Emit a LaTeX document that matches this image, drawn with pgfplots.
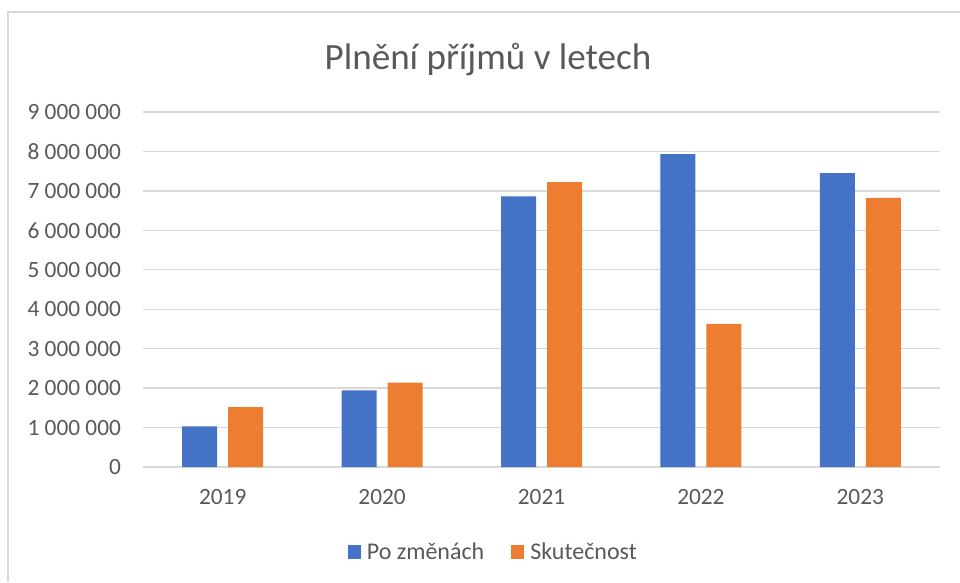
\documentclass[border=0pt]{standalone}
\usepackage{pgfplots}
\pgfplotsset{compat=1.18}
\usepackage{fontspec}
\setmainfont{Carlito}
\definecolor{cblue}{RGB}{68,114,196}
\definecolor{corange}{RGB}{237,125,49}
\definecolor{ctext}{RGB}{89,89,89}
\definecolor{cgrid}{RGB}{217,217,217}
\begin{document}
\begin{tikzpicture}
\path[use as bounding box] (0,0) rectangle (720pt,436.5pt);
\draw[cgrid, line width=1.2pt] (6pt,0) -- (6pt,427.5pt) -- (720pt,427.5pt);
\node[text=ctext, font=\fontsize{27.8}{32}\selectfont] at (366pt,391.5pt) {Plnění příjmů v letech};
\begin{axis}[
  at={(107.25pt,86.25pt)}, anchor=south west,
  scale only axis, width=597.75pt, height=266.25pt,
  ybar=8.25pt, bar width=26.25pt,
  xmin=-0.5, xmax=4.5, ymin=0, ymax=9000000,
  xtick={0,1,2,3,4}, xticklabels={2019,2020,2021,2022,2023},
  ytick={0,1000000,2000000,3000000,4000000,5000000,6000000,7000000,8000000,9000000},
  scaled y ticks=false,
  /pgf/number format/assume math mode=true,
  /pgf/number format/fixed,
  /pgf/number format/precision=0,
  /pgf/number format/1000 sep={\ },
  major tick length=0pt,
  axis line style={draw=none},
  ymajorgrids, grid style={cgrid, line width=1pt},
  tick label style={text=ctext, font=\fontsize{17.5}{20}\selectfont},
  y tick label style={xshift=-13pt},
  x tick label style={yshift=-13.5pt},
  legend columns=2,
  legend style={draw=none, fill=none, at={(0.4398,-0.2394)}, anchor=center,
    font=\fontsize{18}{20}\selectfont, text=ctext,
    /tikz/every even column/.append style={column sep=18pt}},
  legend image code/.code={\fill[#1] (0pt,-4.9pt) rectangle (9.75pt,4.9pt); \path (0pt,0pt) -- (12.5pt,0pt);},
]
\addplot[fill=cblue, draw=none] coordinates {(0,1030000) (1,1940000) (2,6860000) (3,7930000) (4,7450000)};
\addplot[fill=corange, draw=none] coordinates {(0,1520000) (1,2140000) (2,7220000) (3,3630000) (4,6820000)};
\legend{Po změnách, Skutečnost}
\end{axis}
\end{tikzpicture}
\end{document}
